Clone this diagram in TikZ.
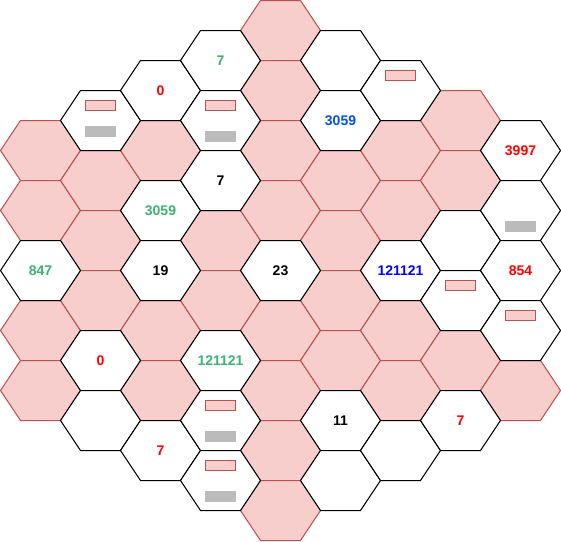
\documentclass[tikz,border=0pt]{standalone}
\usepackage{fontspec}
\setmainfont{Liberation Sans}
\definecolor{cellfill}{HTML}{F8CECC}
\definecolor{cellline}{HTML}{B85450}
\definecolor{bargray}{HTML}{BBBBBB}
\definecolor{numgreen}{HTML}{3CB371}
\definecolor{numblue}{HTML}{0050EF}
\begin{document}
\begin{tikzpicture}[x=1pt, y=-1pt, line join=miter,
    pinkhex/.style={fill=cellfill, draw=cellline, line width=1pt},
    whitehex/.style={fill=white, draw=black, line width=1pt},
    tagbox/.style={fill=cellfill, draw=cellline, line width=1pt},
    greybar/.style={fill=bargray, draw=bargray, line width=1pt},
    num/.style={font=\fontsize{14}{16}\selectfont\bfseries, inner sep=0pt}]

    \useasboundingbox (-0.5,-0.5) rectangle (560.5,540.5);

    % pink cells
    \foreach \x/\y in {40/150, 40/210, 40/330, 40/390,
                       100/180, 100/240, 100/300,
                       160/150, 160/330, 160/390,
                       220/240, 220/300,
                       280/30, 280/90, 280/150, 280/210, 280/330, 280/390, 280/450, 280/510,
                       340/180, 340/240, 340/300, 340/360,
                       400/150, 400/210, 400/330, 400/390,
                       460/120, 460/180, 460/360,
                       520/390}
        \draw[pinkhex] (\x-40,\y) -- ++(20,-30) -- ++(40,0) -- ++(20,30) -- ++(-20,30) -- ++(-40,0) -- cycle;

    % white cells
    \foreach \x/\y in {40/270,
                       100/120, 100/360, 100/420,
                       160/90, 160/210, 160/270, 160/450,
                       220/60, 220/120, 220/180, 220/360, 220/420, 220/480,
                       280/270,
                       340/60, 340/120, 340/420, 340/480,
                       400/90, 400/270, 400/450,
                       460/240, 460/300, 460/420,
                       520/150, 520/210, 520/270, 520/330}
        \draw[whitehex] (\x-40,\y) -- ++(20,-30) -- ++(40,0) -- ++(20,30) -- ++(-20,30) -- ++(-40,0) -- cycle;

    % small tags and bars
    \foreach \x/\y in {100/105, 220/105, 400/75, 460/285, 520/315, 220/405, 220/465}
        \draw[tagbox] (\x-15,\y-5) rectangle (\x+15,\y+5);
    \foreach \x/\y in {100/130.5, 220/135.5, 520/225.5, 220/435.5, 220/495.5}
        \draw[greybar] (\x-15,\y-5) rectangle (\x+15,\y+5);

    % numbers
    \node[num, text=numgreen] (g847) at (40,270) {847};
    \node[num, text=red] (r0a) at (160,90) {0};
    \node[num, text=numgreen] (g7) at (220,60) {7};
    \node[num, text=numgreen] (g3059) at (160,210) {3059};
    \node[num] (k7) at (220,180) {7};
    \node[num] (k19) at (160,270) {19};
    \node[num] (k23) at (280,270) {23};
    \node[num, text=red] (r0b) at (100,360) {0};
    \node[num, text=numgreen] (g121121) at (220,360) {121121};
    \node[num, text=red] (r7a) at (160,450) {7};
    \node[num, text=numblue] (b3059) at (340,120) {3059};
    \node[num, text=blue] (b121121) at (400,270) {121121};
    \node[num, text=red] (r3997) at (520,150) {3997};
    \node[num, text=red] (r854) at (520,270) {854};
    \node[num] (k11) at (340,420) {11};
    \node[num, text=red] (r7b) at (460,420) {7};

\end{tikzpicture}
\end{document}
